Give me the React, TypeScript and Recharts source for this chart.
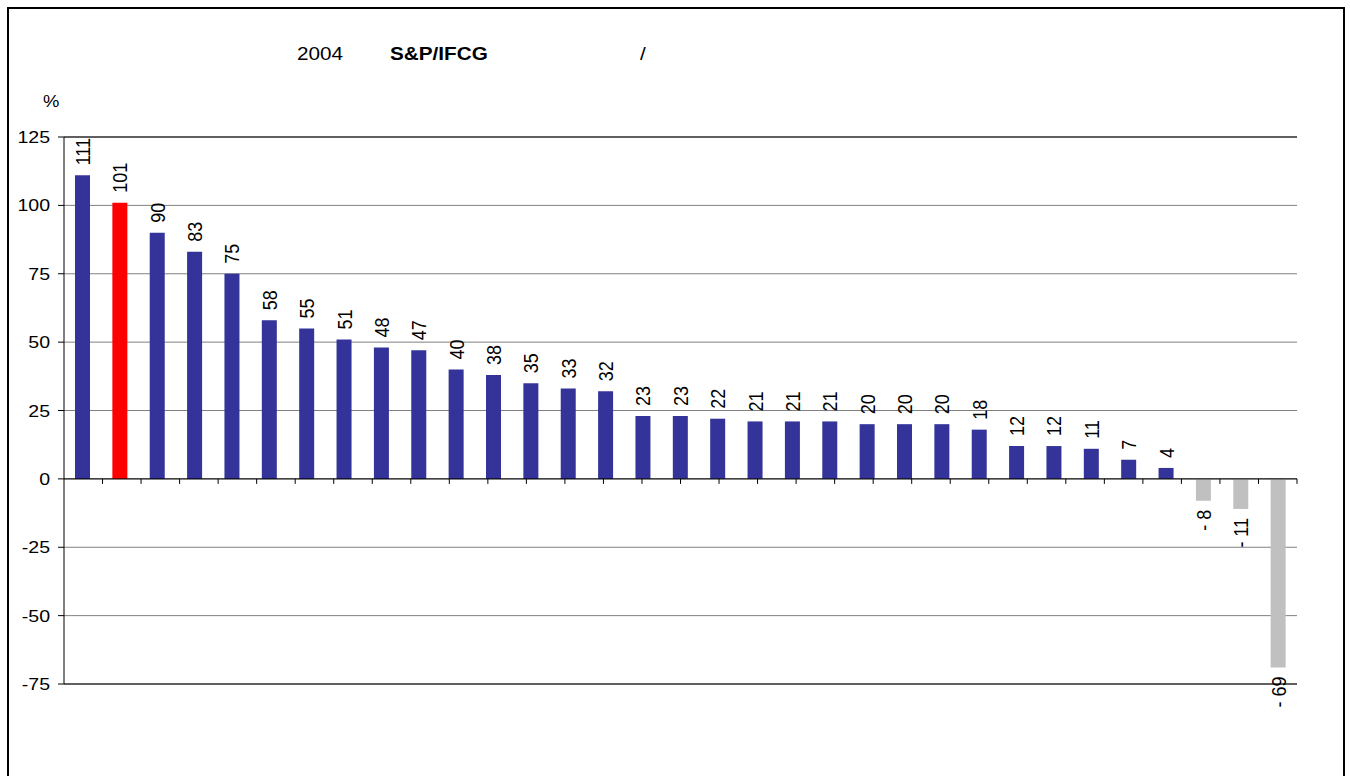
import React from "react";
import {
  BarChart,
  Bar,
  Cell,
  XAxis,
  YAxis,
  CartesianGrid,
  ReferenceLine,
  LabelList,
} from "recharts";

// 2004 returns in %, sorted from best to worst
const values = [
  111, 101, 90, 83, 75, 58, 55, 51, 48, 47, 40, 38, 35, 33, 32, 23, 23, 22, 21,
  21, 21, 20, 20, 20, 18, 12, 12, 11, 7, 4, -8, -11, -69,
];
const highlightIndex = 1;
const yTicks = [-75, -50, -25, 0, 25, 50, 75, 100, 125];

const BLUE = "#333399";
const RED = "#FF0000";
const GREY = "#C0C0C0";
const FONT = '"Liberation Sans", Arial, sans-serif';
const STRETCH = 1.15;

const rows = values.map((v, i) => ({ rank: i + 1, value: v }));
const edges = values.map((_, i) => i + 1);

const barColor = (v: number, i: number) =>
  i === highlightIndex ? RED : v < 0 ? GREY : BLUE;

const fmt = (v: number) => (v < 0 ? `- ${Math.abs(v)}` : `${v}`);

const YTick = ({ x, y, payload }: any) => (
  <text
    transform={`translate(${x},${y}) scale(${STRETCH},1)`}
    textAnchor="end"
    dominantBaseline="central"
    fontSize={17}
    fontFamily={FONT}
    fill="#000"
  >
    {payload.value}
  </text>
);

// value labels run upward, above positive bars and below negative ones
const ValueLabel = ({ x, y, width, height, value }: any) => {
  const cx = x + width / 2;
  const top = Math.min(y, y + height);
  const bottom = Math.max(y, y + height);
  const neg = value < 0;
  const ty = neg ? bottom + 9 : top - 10;
  return (
    <text
      transform={`translate(${cx},${ty}) scale(${STRETCH},1) rotate(-90)`}
      textAnchor={neg ? "end" : "start"}
      dominantBaseline="central"
      fontSize={18}
      fontFamily={FONT}
      fill="#000"
    >
      {fmt(value)}
    </text>
  );
};

// short tick hanging under the zero line at each category boundary
const EdgeTick = (props: any) => (
  <line x1={props.x1} y1={props.y1} x2={props.x1} y2={props.y1 + 5} stroke="#000" strokeWidth={1} />
);

const titleStyle: React.CSSProperties = {
  position: "absolute",
  top: 45,
  fontSize: 18,
  lineHeight: "18px",
  fontFamily: FONT,
  whiteSpace: "nowrap",
  transform: `scaleX(${STRETCH})`,
  transformOrigin: "left",
};

export default function App() {
  return (
    <div
      style={{
        position: "absolute",
        left: 0,
        top: 0,
        width: 1350,
        height: 776,
        overflow: "hidden",
        background: "#fff",
      }}
    >
      <div
        style={{
          position: "absolute",
          left: 7,
          top: 7,
          width: 1338,
          height: 820,
          border: "2px solid #000",
          boxSizing: "border-box",
        }}
      />
      <div style={{ ...titleStyle, left: 297 }}>2004</div>
      <div style={{ ...titleStyle, left: 390, fontWeight: "bold" }}>S&amp;P/IFCG</div>
      <div style={{ ...titleStyle, left: 640 }}>/</div>
      <div style={{ ...titleStyle, left: 43, top: 93, fontSize: 16 }}>%</div>

      <div style={{ position: "absolute", left: 0, top: 0 }}>
        <BarChart
          width={1350}
          height={776}
          data={rows}
          margin={{ top: 137, right: 53, bottom: 92, left: 0 }}
          barSize={15}
        >
          <CartesianGrid vertical={false} stroke="#808080" />
          <XAxis dataKey="rank" hide />
          <XAxis xAxisId="edges" type="number" domain={[0, 33]} hide />
          <YAxis
            width={64}
            domain={[-75, 125]}
            ticks={yTicks}
            interval={0}
            tickSize={6}
            tickMargin={8}
            axisLine={{ stroke: "#000" }}
            tickLine={{ stroke: "#000" }}
            tick={<YTick />}
          />
          <ReferenceLine y={125} stroke="#000" />
          <ReferenceLine y={-75} stroke="#000" />
          <ReferenceLine xAxisId="edges" x={33} stroke="#808080" />
          <Bar dataKey="value" isAnimationActive={false}>
            {rows.map((r, i) => (
              <Cell key={r.rank} fill={barColor(r.value, i)} />
            ))}
            <LabelList dataKey="value" content={<ValueLabel />} />
          </Bar>
          <ReferenceLine y={0} stroke="#000" />
          {edges.map((e) => (
            <ReferenceLine
              key={e}
              xAxisId="edges"
              segment={[
                { x: e, y: 0 },
                { x: e, y: -75 },
              ]}
              shape={EdgeTick}
            />
          ))}
        </BarChart>
      </div>
    </div>
  );
}
